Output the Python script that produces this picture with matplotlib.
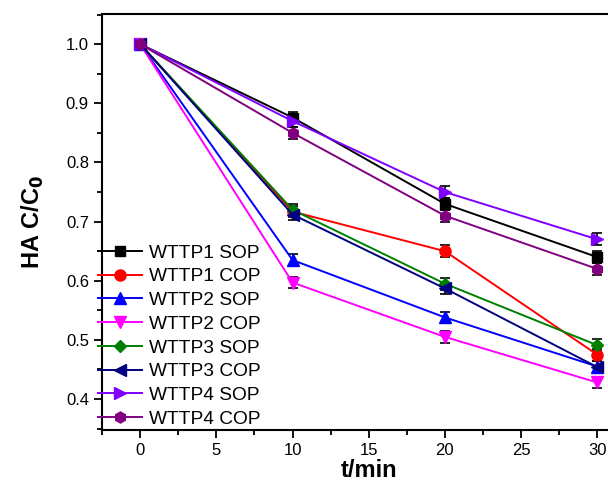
import matplotlib
matplotlib.use("Agg")
import matplotlib.pyplot as plt
from matplotlib.ticker import MultipleLocator

plt.rcParams['font.family'] = ['Liberation Sans', 'DejaVu Sans']

# data
t = [0, 10, 20, 30]
labels = ["WTTP1 SOP", "WTTP1 COP", "WTTP2 SOP", "WTTP2 COP",
          "WTTP3 SOP", "WTTP3 COP", "WTTP4 SOP", "WTTP4 COP"]
wttp1_sop = [1.0, 0.876, 0.730, 0.640]
wttp1_cop = [1.0, 0.717, 0.650, 0.475]
wttp2_sop = [1.0, 0.635, 0.538, 0.455]
wttp2_cop = [1.0, 0.597, 0.505, 0.428]
wttp3_sop = [1.0, 0.720, 0.595, 0.491]
wttp3_cop = [1.0, 0.712, 0.587, 0.454]
wttp4_sop = [1.0, 0.870, 0.750, 0.670]
wttp4_cop = [1.0, 0.850, 0.710, 0.620]
err = [0.0, 0.010, 0.010, 0.010]

series = [wttp1_sop, wttp1_cop, wttp2_sop, wttp2_cop,
          wttp3_sop, wttp3_cop, wttp4_sop, wttp4_cop]
colors = ["#000000", "#ff0000", "#0000ff", "#ff00ff",
          "#008000", "#000080", "#8000ff", "#800080"]
markers = ["s", "o", "^", "v", "D", "<", ">", "h"]
msizes = [7, 8, 8, 8, 6, 8, 8, 8]

fig = plt.figure(figsize=(6.08, 4.84), dpi=100)
ax = fig.add_axes([0.168, 0.112, 0.877, 0.859])

for y, lab, c, m, ms in zip(series, labels, colors, markers, msizes):
    ax.errorbar(t, y, yerr=err, fmt="none", ecolor="black", elinewidth=1.2,
                capsize=3.5, capthick=1.2, zorder=2)
    ax.plot(t, y, color=c, marker=m, markersize=ms, lw=1.4, label=lab, zorder=3)

ax.set_xlim(-2.5, 32.5)
ax.set_ylim(0.348, 1.051)
ax.xaxis.set_major_locator(MultipleLocator(5))
ax.xaxis.set_minor_locator(MultipleLocator(2.5))
ax.yaxis.set_major_locator(MultipleLocator(0.1))
ax.yaxis.set_minor_locator(MultipleLocator(0.05))
ax.tick_params(which="both", direction="out", width=1.3, labelsize=12,
               top=False, right=False)
ax.tick_params(which="major", length=6)
ax.tick_params(which="minor", length=3.5)
for s in ax.spines.values():
    s.set_linewidth(1.5)

ax.set_xlabel("t/min", fontsize=17, fontweight="bold", labelpad=1)
ax.set_ylabel("HA C/C$_\\mathbf{0}$", fontsize=17, fontweight="bold", labelpad=14)

ax.legend(loc="lower left", bbox_to_anchor=(-0.012, 0.0), frameon=False,
          fontsize=13.8, handlelength=2.3, handletextpad=0.4,
          labelspacing=0.33, borderaxespad=0.0, borderpad=0.1)

fig.savefig("out.png", dpi=100)
